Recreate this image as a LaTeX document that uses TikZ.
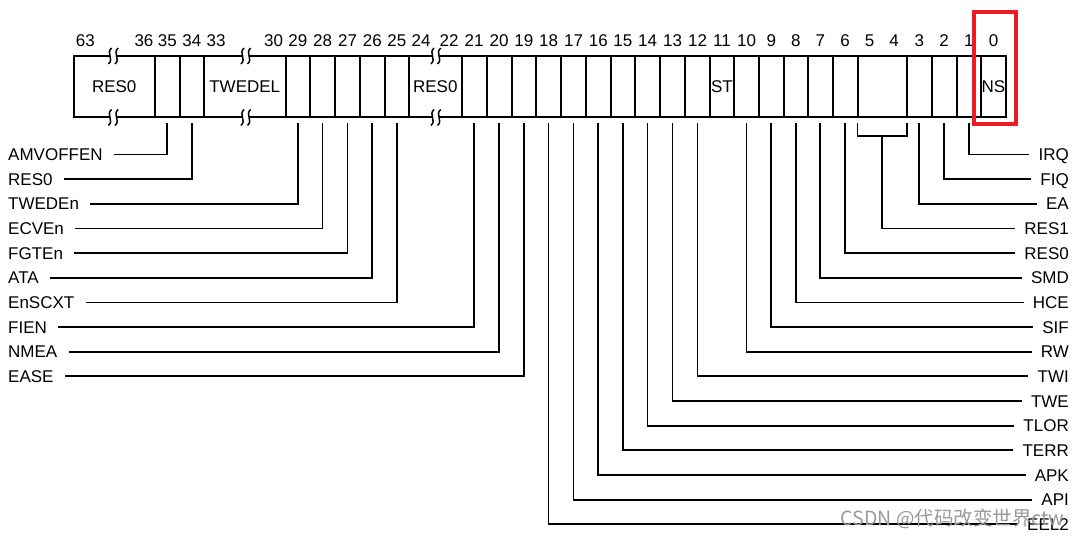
\documentclass[tikz,border=0pt]{standalone}
\usepackage{fontspec}
\setmainfont{Liberation Sans}
\newfontfamily\cjkfont{Noto Sans CJK SC}
\newcommand\lblfont{\fontsize{17}{17}\selectfont}
\newcommand\regcell[4]{\node[cellbox, minimum width={(#3-#2)*1pt}] (#1) at ({(#2+#3)/2},86.75) {#4};}
\newcommand\brk[2]{%
  \fill[white] ({#1-3.4},{#2-2.5}) rectangle ({#1+3.4},{#2+2.5});
  \draw[squig] ({#1-3.3+1.6},{#2-8}) .. controls ({#1-3.3-4.5},{#2-3}) and ({#1-3.3+4.5},{#2+3}) .. ({#1-3.3-1.6},{#2+8});
  \draw[squig] ({#1+3.3+1.6},{#2-8}) .. controls ({#1+3.3-4.5},{#2-3}) and ({#1+3.3+4.5},{#2+3}) .. ({#1+3.3-1.6},{#2+8});}
\definecolor{hlred}{RGB}{237,28,36}
\begin{document}
\begin{tikzpicture}[x=1pt,y=-1pt,
  cellbox/.style={draw, line width=2pt, inner sep=0pt, outer sep=0pt, minimum height=61.5pt, font=\lblfont},
  bitnum/.style={inner sep=0pt, font=\lblfont},
  lab/.style={inner sep=0pt, font=\lblfont, text height=12.2pt, text depth=0pt},
  conn/.style={line width=1.8pt},
  squig/.style={line width=1.5pt},
]
\useasboundingbox (0,0) rectangle (1075,540);
% register cells
\regcell{c63}{73.5}{155}{RES0}
\regcell{c35}{155}{179.5}{}
\regcell{c34}{179.5}{204}{}
\regcell{c33}{204}{285.5}{TWEDEL}
\regcell{c29}{285.5}{310}{}
\regcell{c28}{310}{335}{}
\regcell{c27}{335}{360}{}
\regcell{c26}{360}{384.5}{}
\regcell{c25}{384.5}{409}{}
\regcell{c24}{409}{461.5}{RES0}
\regcell{c21}{461.5}{486.5}{}
\regcell{c20}{486.5}{511.5}{}
\regcell{c19}{511.5}{536}{}
\regcell{c18}{536}{561}{}
\regcell{c17}{561}{586}{}
\regcell{c16}{586}{610.5}{}
\regcell{c15}{610.5}{635}{}
\regcell{c14}{635}{660}{}
\regcell{c13}{660}{685}{}
\regcell{c12}{685}{710}{}
\regcell{c11}{710}{734}{ST}
\regcell{c10}{734}{759}{}
\regcell{c9}{759}{783.5}{}
\regcell{c8}{783.5}{808}{}
\regcell{c7}{808}{832.5}{}
\regcell{c6}{832.5}{857.5}{}
\regcell{c54}{857.5}{907}{}
\regcell{c3}{907}{931.5}{}
\regcell{c2}{931.5}{956.5}{}
\regcell{c1}{956.5}{981}{}
\regcell{c0}{981}{1006}{NS}
% breaks
\brk{113.3}{56}
\brk{113.3}{117.5}
\brk{245.8}{56}
\brk{245.8}{117.5}
\brk{435.8}{56}
\brk{435.8}{117.5}
% bit numbers
\foreach \b in {35,34,29,28,27,26,25,21,20,19,18,17,16,15,14,13,12,11,10,9,8,7,6,3,2,1,0}
  \node[bitnum] (n\b) at (c\b |- 0,41) {\b};
\node[bitnum] (n63) at (85.3,41) {63};
\node[bitnum] (n36) at (144,41) {36};
\node[bitnum] (n33) at (216,41) {33};
\node[bitnum] (n30) at (273.5,41) {30};
\node[bitnum] (n24) at (421,41) {24};
\node[bitnum] (n22) at (449,41) {22};
\node[bitnum] (n5) at (869.5,41) {5};
\node[bitnum] (n4) at (894,41) {4};
% left labels
\foreach \t/\cc [count=\i from 0] in {AMVOFFEN/c35, RES0/c34, TWEDEn/c29, ECVEn/c28, FGTEn/c27, ATA/c26, EnSCXT/c25, FIEN/c21, NMEA/c20, EASE/c19}
{
  \node[lab, anchor=west] (L\i) at (8,{154.5+24.65*\i}) {\t};
  \draw[conn] ([yshift=-6pt]\cc.south) |- ([xshift=11pt]L\i.east);
}
% right labels
\foreach \t/\cc/\i in {IRQ/c1/0, FIQ/c2/1, EA/c3/2, RES0/c6/4, SMD/c7/5, HCE/c8/6, SIF/c9/7, RW/c10/8, TWI/c12/9, TWE/c13/10, TLOR/c14/11, TERR/c15/12, APK/c16/13, API/c17/14, EEL2/c18/15}
{
  \node[lab, anchor=east] (R\i) at (1069,{154.5+24.65*\i}) {\t};
  \draw[conn] ([yshift=-6pt]\cc.south) |- ([xshift=-9pt]R\i.west);
}
\node[lab, anchor=east] (R3) at (1069,{154.5+24.65*3}) {RES1};
\coordinate (bk) at ([yshift=-18.2pt]c54.south);
\draw[conn] ([yshift=-6pt]c54.south west) |- (bk) -| ([yshift=-6pt]c54.south east);
\draw[conn] (bk) |- ([xshift=-9pt]R3.west);
% highlight
\draw[hlred, line width=4.6pt] (974,12) rectangle (1016,124);
% watermark
\node[text=black!40, font=\cjkfont\fontsize{19.5}{19.5}\selectfont, inner sep=0pt] (wm) at (952.5,519) {CSDN @代码改变世界ctw};
\end{tikzpicture}
\end{document}
